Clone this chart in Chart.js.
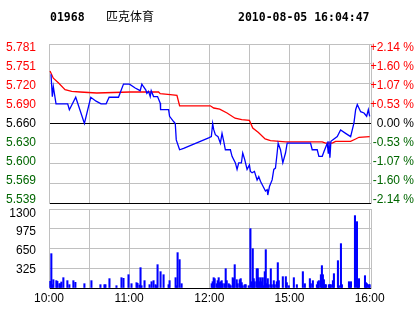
<!DOCTYPE html>
<html>
<head>
<meta charset="utf-8">
<script src="https://cdn.jsdelivr.net/npm/chart.js@4.4.0/dist/chart.umd.min.js"></script>
<style>
  body { margin: 0; background: #fff; }
  #wrap { position: relative; width: 414px; height: 314px; overflow: hidden; }
  canvas { position: absolute; left: 0; }
  #priceChart { top: 0; }
  #volChart { top: 200px; }
</style>
</head>
<body>
<div id="wrap">
  <canvas id="priceChart" width="414" height="210"></canvas>
  <canvas id="volChart" width="414" height="114"></canvas>
</div>
<script>
// header
const stockCode = '01968';
const stockName = '匹克体育';
const stamp = '2010-08-05 16:04:47';
const prevClose = 5.66;

// axes
const timeLabels = ['10:00', '11:00', '12:00', '15:00', '16:00'];
const timeLabelMinutes = [0, 60, 120, 180, 240];
const priceLabels = ['5.781', '5.751', '5.720', '5.690', '5.660', '5.630', '5.600', '5.569', '5.539'];
const pctLabels = ['+2.14 %', '+1.60 %', '+1.07 %', '+0.53 %', '0.00 %', '-0.53 %', '-1.07 %', '-1.60 %', '-2.14 %'];
const volTicks = [1300, 975, 650, 325, 0];
const volLabels = ['1300', '975', '650', '325', ''];

// price line (minutes from 10:00)
const priceMinutes = [1.5, 2.5, 3.25, 5.25, 14, 15.25, 20, 26.5, 31.25, 35.25, 39, 42.75, 45, 52, 55.75, 60.25,
  64.5, 68.25, 69.5, 70.75, 72.5, 73.25, 74.5, 75.75, 76.5, 78.25, 81.25, 83.25, 83.5, 89.5, 90.25, 93.25,
  94.5, 95.25, 97.75, 100.75, 119.5, 121.5, 122.5, 123.25, 124.5, 126.5, 128.25, 129.5, 130.75, 132, 135.75,
  137, 139.5, 140.75, 142, 144, 145, 146.5, 148.25, 150, 150.75, 152, 153.75, 155.75, 157, 158.25, 159.5,
  160.75, 162, 163.25, 163.75, 165, 167, 168.25, 169.5, 170.75, 171.5, 173.25, 175, 177, 178.25, 195.75,
  197, 200.75, 202, 204.5, 205.75, 208.25, 209, 209.5, 210.25, 211, 215.75, 218.25, 222, 225.75, 228.25,
  229.5, 230.75, 233.25, 235.75, 237.75, 239, 240];
const priceValues = [5.735, 5.701, 5.716, 5.690, 5.690, 5.681, 5.700, 5.660, 5.700, 5.694, 5.690, 5.690, 5.700, 5.700, 5.720, 5.720,
  5.714, 5.710, 5.720, 5.716, 5.711, 5.706, 5.709, 5.701, 5.710, 5.701, 5.701, 5.691, 5.681, 5.681, 5.671, 5.663,
  5.660, 5.635, 5.620, 5.622, 5.638, 5.640, 5.660, 5.651, 5.643, 5.640, 5.630, 5.645, 5.633, 5.620, 5.620,
  5.610, 5.600, 5.590, 5.600, 5.600, 5.615, 5.605, 5.590, 5.597, 5.587, 5.585, 5.587, 5.574, 5.579, 5.572, 5.567,
  5.562, 5.557, 5.559, 5.551, 5.564, 5.574, 5.590, 5.592, 5.615, 5.630, 5.620, 5.600, 5.615, 5.630, 5.630,
  5.620, 5.620, 5.610, 5.610, 5.617, 5.630, 5.615, 5.633, 5.608, 5.633, 5.640, 5.650, 5.645, 5.640, 5.661,
  5.681, 5.689, 5.678, 5.676, 5.671, 5.681, 5.671];

// average price line
const avgMinutes = [0.75, 3.25, 7, 12, 17, 23.25, 35.75, 60.75, 82, 83.25, 90.75, 95.75, 97.75, 120.75, 123.25,
  127.75, 133.25, 139.25, 144.25, 150, 152.5, 156.75, 161.75, 165.75, 177, 204.5, 207, 212, 214.5, 225.75,
  229.5, 232, 240];
const avgValues = [5.740, 5.729, 5.722, 5.7115, 5.709, 5.708, 5.7065, 5.708, 5.708, 5.7055, 5.704, 5.703, 5.687, 5.687, 5.6836,
  5.682, 5.676, 5.668, 5.6658, 5.6647, 5.653, 5.6464, 5.6364, 5.634, 5.632, 5.632, 5.630, 5.630, 5.6327, 5.6327,
  5.6364, 5.639, 5.640];

// volume bars
const volMinutes = [1, 1.75, 2.5, 3.25, 5.5, 6.25, 7.75, 8.5, 9.25, 10.75, 13.75, 15.25, 18.25, 19.75, 26.5, 31.75,
  38.5, 41.5, 42.25, 45.25, 50.5, 54.25, 55.75, 59.5, 61.75, 65.5, 66.25, 67.75, 68.5, 69.25, 71.5, 75.25,
  76.75, 78.25, 79.75, 80.5, 81.25, 83.5, 85.75, 89.5, 90.25, 94.75, 95.5, 96.25, 97.75, 99.25,
  121.75, 122.5, 123.25, 124, 125.5, 126.25, 127, 127.75, 128.5, 129.25, 130, 131.5, 132.25, 133, 134.5,
  135.25, 136, 137.5, 138.25, 139, 140.5, 141.25, 142.75, 143.5, 144.25, 145, 146.5, 147.25, 149.5, 150.75,
  151.75, 152.5, 153.25, 154, 155.5, 156.25, 157, 157.75, 158.5, 159.25, 160, 160.75, 161.5, 162.25, 163,
  163.75, 164.5, 166, 166.75, 168.25, 169, 170.5, 171.25, 172, 175, 177.25, 178, 179.5, 183.25, 185.5,
  190, 191.5, 195.25, 196, 197.5, 200.5, 201.25, 202, 203.5, 204.25, 205, 205.75, 206.5, 207.25, 209.5,
  210.25, 211, 212.5, 213.25, 216.25, 217, 218.5, 219.25, 224.5, 225.25, 226, 229, 230.5, 231.25, 232,
  236.5, 237.25, 238, 239.5, 240];
const volValues = [110, 565, 55, 137, 121, 110, 71, 71, 99, 170, 121, 55, 121, 93, 71, 121,
  55, 55, 55, 154, 38, 170, 159, 219, 71, 88, 77, 49, 335, 38, 121, 55,
  104, 121, 55, 38, 384, 269, 219, 55, 121, 170, 38, 582, 467, 71,
  71, 104, 170, 154, 71, 121, 170, 88, 104, 121, 71, 71, 318, 121, 71,
  55, 38, 170, 154, 384, 137, 71, 137, 154, 88, 38, 55, 55, 38, 977,
  104, 647, 154, 104, 318, 318, 170, 104, 170, 104, 170, 38, 269, 631, 71,
  154, 55, 318, 55, 121, 55, 104, 417, 121, 187, 187, 88, 38, 170, 55,
  269, 71, 154, 71, 121, 55, 104, 121, 219, 368, 219, 137, 55, 55, 55,
  55, 55, 121, 236, 450, 38, 730, 55, 104, 38, 104, 1191, 1092, 104, 154,
  203, 88, 71, 55, 55];

const RED = '#ff0000', GREEN = '#006600', GRID = '#c0c0c0';
const tickFont = { family: 'Arial, "Liberation Sans"', size: 12 };
const halfHours = [0, 30, 60, 90, 120, 150, 180, 210, 240];
const xMax = 241;

const pMax = prevClose * 1.0214, pMin = prevClose * (1 - 0.0214);
const pStep = (pMax - pMin) / 8;
// tick labels sit a little inside the panel, like the original quote image
const labMin = prevClose - 4.19 * pStep, labMax = prevClose + 4.19 * pStep;
const levelColor = i => i < 4 ? RED : (i === 4 ? '#000' : GREEN);

const headerPlugin = {
  id: 'header',
  afterDraw(chart) {
    const c = chart.ctx;
    c.save();
    c.fillStyle = '#000';
    c.textBaseline = 'alphabetic';
    c.font = 'bold 11.5px "DejaVu Sans Mono"';
    c.fillText(stockCode, 50, 21);
    c.fillText(stamp, 238, 21);
    c.font = '12px "Noto Sans CJK SC"';
    c.fillText(stockName, 106, 21);
    c.restore();
  }
};

const setLevels = axis => {
  axis.ticks = priceLabels.map((_, i) => ({ value: pMin + i * pStep }));
};
const noPad = w => s => { s.width = w; s.paddingTop = 0; s.paddingBottom = 0; };

new Chart(document.getElementById('priceChart'), {
  type: 'line',
  data: {
    datasets: [
      { data: priceMinutes.map((m, i) => ({ x: m, y: priceValues[i] })), borderColor: '#0000ff', borderWidth: 1.3, pointRadius: 0, tension: 0, yAxisID: 'y' },
      { data: avgMinutes.map((m, i) => ({ x: m, y: avgValues[i] })), borderColor: RED, borderWidth: 1.3, pointRadius: 0, tension: 0, yAxisID: 'y' }
    ]
  },
  options: {
    responsive: false, animation: false, devicePixelRatio: 1,
    layout: { padding: { top: 44, left: 0, right: 0, bottom: 0 } },
    plugins: { legend: { display: false }, tooltip: { enabled: false } },
    scales: {
      x: {
        type: 'linear', min: 0, max: xMax,
        afterBuildTicks: a => { a.ticks = halfHours.map(v => ({ value: v })); },
        afterFit: s => { s.height = 7; },
        ticks: { display: false },
        grid: { color: GRID, drawTicks: false },
        border: { color: '#000' }
      },
      y: {
        position: 'left', weight: 0, min: pMin, max: pMax,
        afterBuildTicks: setLevels,
        afterFit: noPad(0),
        ticks: { display: false },
        grid: { drawTicks: false, color: ctx => (ctx.index === 4 || ctx.index === 0) ? '#000' : GRID },
        border: { color: GRID }
      },
      yLab: {
        position: 'left', weight: 1, min: labMin, max: labMax,
        afterBuildTicks: setLevels,
        afterFit: noPad(49),
        ticks: {
          font: tickFont, padding: 5,
          callback: (v, i) => priceLabels[8 - i],
          color: ctx => levelColor(8 - ctx.index)
        },
        grid: { display: false },
        border: { display: false }
      },
      y2: {
        position: 'right', min: labMin, max: labMax,
        afterBuildTicks: setLevels,
        afterFit: noPad(43),
        ticks: {
          font: tickFont, padding: 2, crossAlign: 'far',
          callback: (v, i) => pctLabels[8 - i],
          color: ctx => levelColor(8 - ctx.index)
        },
        grid: { drawOnChartArea: false, drawTicks: false },
        border: { color: GRID }
      }
    }
  },
  plugins: [headerPlugin]
});

new Chart(document.getElementById('volChart'), {
  type: 'bar',
  data: {
    datasets: [{ data: volMinutes.map((m, i) => ({ x: m, y: volValues[i] })), backgroundColor: '#0000ff', barThickness: 1.4, yAxisID: 'y' }]
  },
  options: {
    responsive: false, animation: false, devicePixelRatio: 1,
    layout: { padding: { top: 9, left: 0, right: 0, bottom: 0 } },
    plugins: { legend: { display: false }, tooltip: { enabled: false } },
    scales: {
      x: {
        type: 'linear', min: 0, max: xMax, offset: false,
        afterBuildTicks: a => { a.ticks = halfHours.map(v => ({ value: v })); },
        afterFit: s => { s.height = 26; },
        ticks: {
          font: tickFont, color: '#000', padding: 3, autoSkip: false, maxRotation: 0,
          callback: v => { const i = timeLabelMinutes.indexOf(v); return i < 0 ? '' : timeLabels[i]; }
        },
        grid: { color: GRID, drawTicks: false, offset: false },
        border: { color: '#000' }
      },
      y: {
        position: 'left', weight: 0, min: 0, max: 1300,
        afterBuildTicks: a => { a.ticks = volTicks.slice().reverse().map(v => ({ value: v })); },
        afterFit: noPad(0),
        ticks: { display: false },
        grid: { drawTicks: false, color: ctx => ctx.tick.value === 0 ? '#000' : GRID },
        border: { color: GRID }
      },
      yLab: {
        position: 'left', weight: 1, min: -2, max: 1379,
        afterBuildTicks: a => { a.ticks = volTicks.slice().reverse().map(v => ({ value: v })); },
        afterFit: noPad(49),
        ticks: {
          font: tickFont, color: '#000', padding: 5,
          callback: v => volLabels[volTicks.indexOf(v)]
        },
        grid: { display: false },
        border: { display: false }
      },
      y2: {
        position: 'right', min: 0, max: 1300,
        afterFit: noPad(43),
        ticks: { display: false },
        grid: { drawOnChartArea: false, drawTicks: false },
        border: { color: GRID }
      }
    }
  }
});
</script>
</body>
</html>
